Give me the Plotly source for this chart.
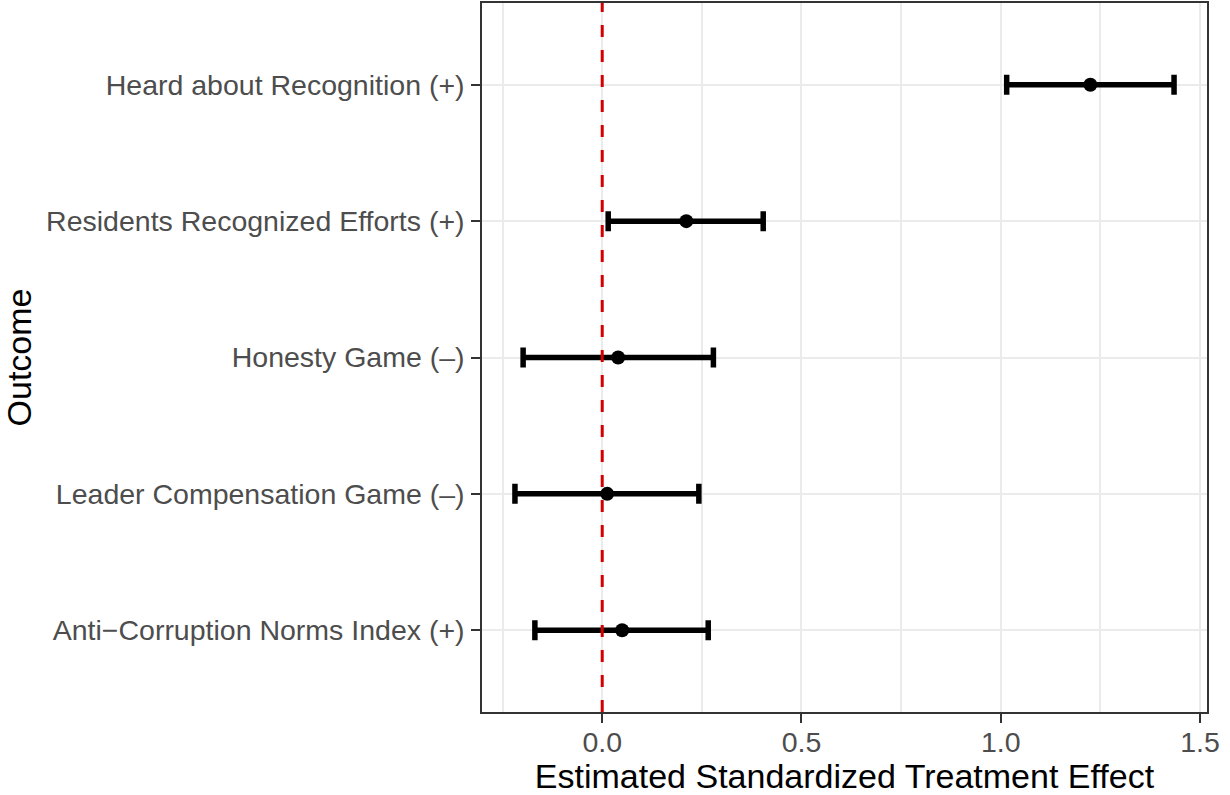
import plotly.graph_objects as go

outcomes = [
    "Anti\u2212Corruption Norms Index (+)",
    "Leader Compensation Game (\u2013)",
    "Honesty Game (\u2013)",
    "Residents Recognized Efforts (+)",
    "Heard about Recognition (+)",
]
estimates = [0.050, 0.0125, 0.040, 0.211, 1.225]
ci_low = [-0.169, -0.219, -0.1985, 0.015, 1.015]
ci_high = [0.266, 0.2425, 0.279, 0.404, 1.435]

err_plus = [h - e for h, e in zip(ci_high, estimates)]
err_minus = [e - l for e, l in zip(estimates, ci_low)]

FONT = "Liberation Sans, Arial, Helvetica, sans-serif"
GRID = "#EBEBEB"

fig = go.Figure()

fig.add_trace(go.Scatter(
    x=estimates, y=outcomes, mode="markers",
    marker=dict(color="black", size=14),
    error_x=dict(type="data", symmetric=False, array=err_plus, arrayminus=err_minus,
                 color="black", thickness=5.5, width=10),
    showlegend=False, hoverinfo="skip",
))

fig.add_shape(type="line", xref="x", yref="paper", x0=0, x1=0, y0=0, y1=1,
              line=dict(color="#D40000", width=3, dash="12px,13px"), layer="above")

fig.update_layout(
    width=1230, height=795,
    margin=dict(l=482, r=23, t=3, b=83),
    paper_bgcolor="white", plot_bgcolor="white",
    font=dict(family=FONT, size=28.5, color="#4D4D4D"),
    xaxis=dict(
        range=[-0.3017, 1.5177], tick0=0, dtick=0.5, tickformat=".1f",
        showgrid=True, gridcolor=GRID, gridwidth=2.4, zeroline=False,
        minor=dict(dtick=0.25, tick0=0, showgrid=True, gridcolor=GRID, gridwidth=1.6, ticks=""),
        ticks="outside", ticklen=9, tickwidth=2, tickcolor="#333333",
        ticklabelstandoff=-5,
        showline=True, mirror=True, linecolor="#333333", linewidth=1.5,
        tickfont=dict(family=FONT, size=28.5, color="#4D4D4D"),
        title=dict(text="Estimated Standardized Treatment Effect",
                   font=dict(family=FONT, size=34, color="black"), standoff=4),
        automargin=False,
    ),
    yaxis=dict(
        type="category", categoryorder="array", categoryarray=outcomes,
        range=[-0.6, 4.6],
        showgrid=True, gridcolor=GRID, gridwidth=2.4, zeroline=False,
        ticks="outside", ticklen=9, tickwidth=2, tickcolor="#333333",
        ticklabelstandoff=1,
        showline=True, mirror=True, linecolor="#333333", linewidth=1.5,
        tickfont=dict(family=FONT, size=28.5, color="#4D4D4D"),
        title=dict(text="Outcome", font=dict(family=FONT, size=34, color="black"), standoff=20),
        automargin=False,
    ),
)

fig.write_html("out.html", config={"displayModeBar": False},
               post_script="document.body.style.margin='0';")
